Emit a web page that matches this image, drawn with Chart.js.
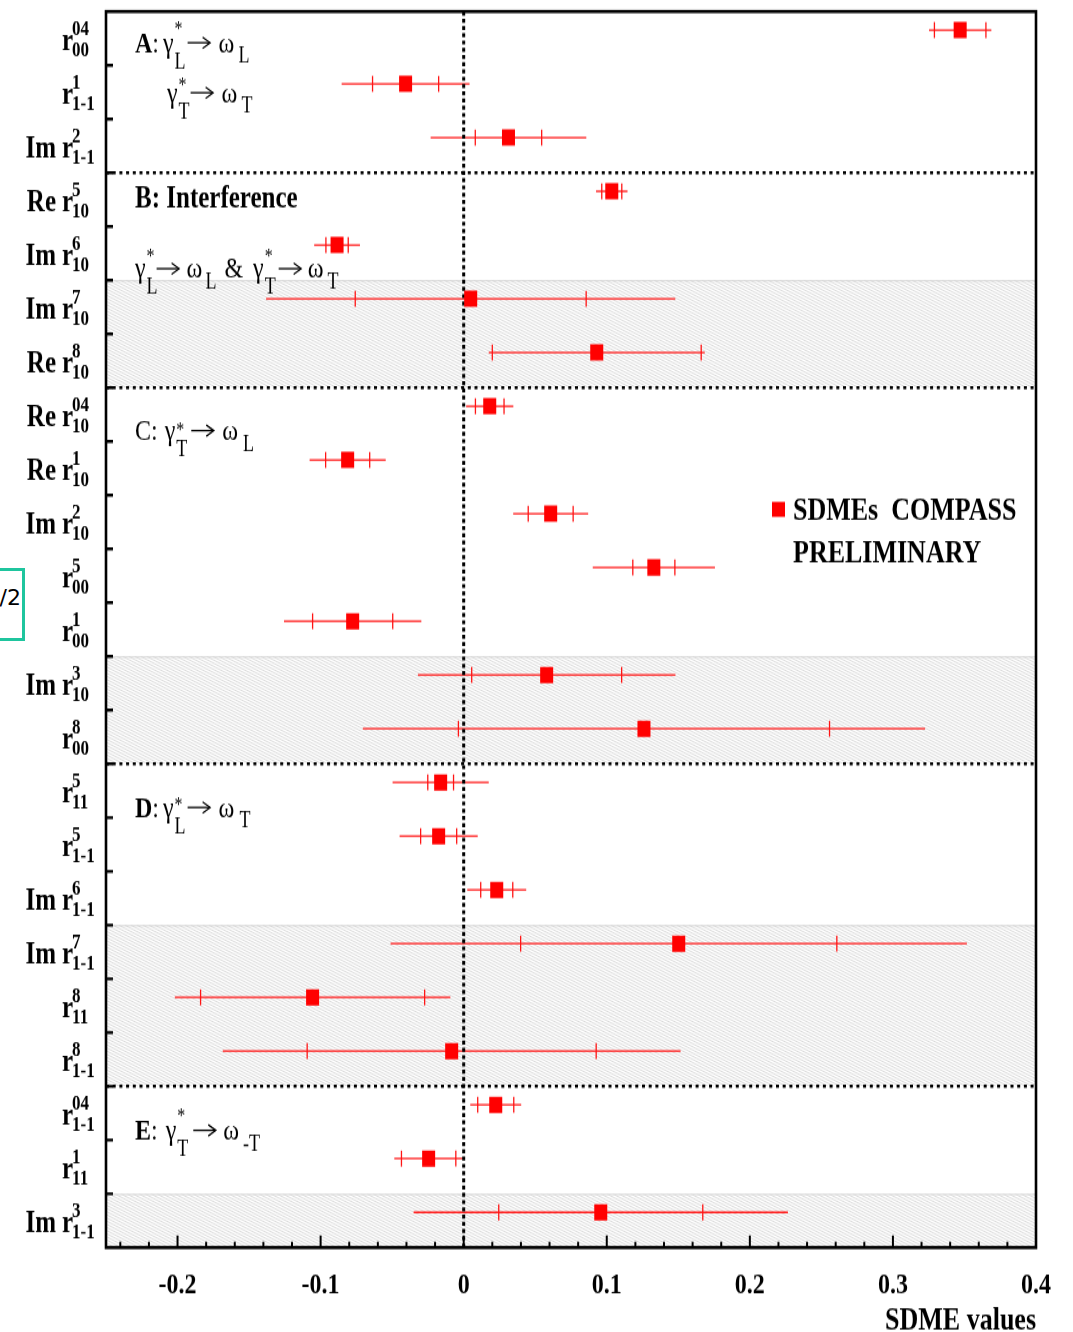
<!DOCTYPE html>
<html>
<head>
<meta charset="utf-8">
<script src="https://cdn.jsdelivr.net/npm/chart.js@4.4.1/dist/chart.umd.min.js"></script>
<style>
html,body{margin:0;padding:0;background:#fff;overflow:hidden}
#wrap{position:relative;width:1073px;height:1332px;overflow:hidden}
#note{position:absolute;left:-20px;top:568px;width:38px;height:53px;border:3px solid #1fc59e;overflow:hidden;
  font:22px "DejaVu Sans",sans-serif;color:#000;text-align:right;padding:14px 1px 0 0;line-height:26px;box-sizing:content-box;background:#fff}
</style>
</head>
<body>
<div id="wrap">
<canvas id="c" width="1073" height="1066" style="display:block;width:1073px;height:1332px"></canvas>
<div id="note">1/2</div>
</div>
<script>
// ---------------- data ----------------
const categories = ['r04_00','r1_1-1','Im r2_1-1','Re r5_10','Im r6_10','Im r7_10','Re r8_10',
  'Re r04_10','Re r1_10','Im r2_10','r5_00','r1_00','Im r3_10','r8_00',
  'r5_11','r5_1-1','Im r6_1-1','Im r7_1-1','r8_11','r8_1-1',
  'r04_1-1','r1_11','Im r3_1-1'];
const labelPrefix = ['', '', 'Im', 'Re', 'Im', 'Im', 'Re',
  'Re', 'Re', 'Im', '', '', 'Im', '',
  '', '', 'Im', 'Im', '', '',
  '', '', 'Im'];
const labelSup = ['04','1','2','5','6','7','8',
  '04','1','2','5','1','3','8',
  '5','5','6','7','8','8',
  '04','1','3'];
const labelSub = ['00','1-1','1-1','10','10','10','10',
  '10','10','10','00','00','10','00',
  '11','1-1','1-1','1-1','11','1-1',
  '1-1','11','1-1'];
const values  = [0.347, -0.0406, 0.0313, 0.1035, -0.0885, 0.0049, 0.093,
  0.0182, -0.0811, 0.0608, 0.1329, -0.0776, 0.058, 0.126,
  -0.0161, -0.0175, 0.0231, 0.1503, -0.1056, -0.0084,
  0.0224, -0.0245, 0.0958];
const statErr = [0.018, 0.0231, 0.0232, 0.007, 0.0078, 0.0807, 0.073,
  0.010, 0.0154, 0.0157, 0.0147, 0.028, 0.0524, 0.1297,
  0.009, 0.0126, 0.0112, 0.1105, 0.0783, 0.101,
  0.0126, 0.019, 0.0713];
const totErr  = [0.0218, 0.0447, 0.0544, 0.011, 0.016, 0.143, 0.0755,
  0.0165, 0.0266, 0.0262, 0.0427, 0.048, 0.090, 0.1965,
  0.0336, 0.0273, 0.0206, 0.2014, 0.0963, 0.160,
  0.0178, 0.024, 0.1308];
const xTickValues = [-0.2, -0.1, 0, 0.1, 0.2, 0.3, 0.4];
const xTickLabels = ['-0.2', '-0.1', '0', '0.1', '0.2', '0.3', '0.4'];
const sectionBreaks = [3, 7, 14, 20];
const hatchedRanges = [[5, 7], [12, 14], [17, 20], [22, 23]];
const legendLines = ['SDMEs  COMPASS', 'PRELIMINARY'];
const xTitle = 'SDME values';

// ---------------- layout constants ----------------
const ROW_OFF = 0.345;
const SERIF = '"Liberation Serif","Times New Roman",serif';
const X_MIN = -0.25, X_MAX = 0.4;

const annotations = [
  {x:135, y:41.6, sup:-14, parts:[['A','B',0],[':','N',0],['γ','N',4],['*','sup',1],['L','subS',1],['→','A',1],['ω','N',8],['L','sub',4]]},
  {x:167, y:81.6, sup:-9, parts:[['γ','N',0],['*','sup',1],['T','subS',1],['→','A',0],['ω','N',8],['T','sub',4]]},
  {x:135, y:166.4, sup:-12, parts:[['B: Interference','BL',0]]},
  {x:135, y:222.4, sup:-12, parts:[['γ','N',0],['*','sup',1],['L','subS',1],['→','A',-2],['ω','N',7],['L','sub',3],['&','N',8],['γ','N',10],['*','sup',1],['T','subS',1],['→','A',2],['ω','N',6],['T','sub',4]]},
  {x:135, y:352, sup:-3, parts:[['C','N',0],[':','N',0],['γ','N',7],['*','sup',1],['T','subS',1],['→','A',3],['ω','N',8],['L','sub',5]]},
  {x:135, y:653.6, sup:-5, parts:[['D','B',0],[':','N',0],['γ','N',4],['*','sup',1],['L','subS',1],['→','A',1],['ω','N',8],['T','sub',5]]},
  {x:135, y:912, sup:-14, parts:[['E','B',0],[':','N',0],['γ','N',8],['*','sup',1],['T','subS',1],['→','A',4],['ω','N',7],['-T','sub',4]]}
];

function drawArrow(ctx, x, y) {
  const w = 24, ay = y - 7.4;
  ctx.save();
  ctx.strokeStyle = '#000'; ctx.lineWidth = 1.3;
  ctx.beginPath(); ctx.moveTo(x + 1, ay); ctx.lineTo(x + w - 1, ay); ctx.stroke();
  ctx.beginPath(); ctx.moveTo(x + w - 8, ay - 4.5); ctx.lineTo(x + w - 0.5, ay); ctx.lineTo(x + w - 8, ay + 4.5); ctx.stroke();
  ctx.restore();
  return w;
}

function richText(ctx, x, y, parts, supDy) {
  const styles = {
    B:  {font:'bold 24px ' + SERIF, dy:0},
    BL: {font:'bold 25px ' + SERIF, dy:0},
    N:  {font:'24px ' + SERIF, dy:0},
    sup:{font:'16px ' + SERIF, dy:supDy},
    subS:{font:'18px ' + SERIF, dy:13},
    sub:{font:'18px ' + SERIF, dy:8.5}
  };
  let cx = x, supW = 0, supX = null;
  for (const [txt, kind, gap] of parts) {
    if (kind === 'A') { cx += gap; cx += drawArrow(ctx, cx, y); continue; }
    const st = styles[kind];
    ctx.font = st.font;
    const w = ctx.measureText(txt).width;
    if (kind === 'sup') { supX = cx + gap; ctx.fillText(txt, supX, y + st.dy); supW = w; continue; }
    if (kind === 'subS') { const sx = supX !== null ? supX : cx + gap; ctx.fillText(txt, sx, y + st.dy); cx = sx + Math.max(w, supW); supW = 0; supX = null; continue; }
    cx += gap;
    ctx.fillText(txt, cx, y + st.dy);
    cx += w;
  }
}

const sdmePlugin = {
  id: 'sdme',
  beforeDatasetsDraw(chart) {
    const {ctx, chartArea: a, scales: {x, y}} = chart;
    ctx.save();
    // hatched bands
    for (const [r0, r1] of hatchedRanges) {
      const y0 = y.getPixelForValue(r0), y1 = y.getPixelForValue(r1);
      ctx.save();
      ctx.beginPath(); ctx.rect(a.left, y0, a.right - a.left, y1 - y0); ctx.clip();
      ctx.strokeStyle = '#d0d0d0'; ctx.lineWidth = 0.8;
      const slope = 0.42, step = 6;
      const span = (y1 - y0) / slope;
      ctx.beginPath();
      let start = a.left - span - ((a.left - span - y0 / slope) % step + step) % step;
      for (let xx = start; xx < a.right; xx += step) { ctx.moveTo(xx, y0); ctx.lineTo(xx + span, y1); }
      ctx.stroke();
      ctx.restore();
      ctx.strokeStyle = '#d4d4d4'; ctx.lineWidth = 1;
      ctx.beginPath(); ctx.moveTo(a.left, y0 + 0.5); ctx.lineTo(a.right, y0 + 0.5); ctx.stroke();
    }
    // error bars
    ctx.strokeStyle = '#ff1515'; ctx.lineWidth = 1.3;
    values.forEach((v, i) => {
      const py = y.getPixelForValue(i + ROW_OFF);
      const xl = x.getPixelForValue(Math.max(X_MIN, v - totErr[i]));
      const xr = x.getPixelForValue(Math.min(X_MAX, v + totErr[i]));
      ctx.beginPath(); ctx.moveTo(xl, py); ctx.lineTo(xr, py); ctx.stroke();
      for (const sx of [v - statErr[i], v + statErr[i]]) {
        const px = x.getPixelForValue(sx);
        ctx.beginPath(); ctx.moveTo(px, py - 6.4); ctx.lineTo(px, py + 6.4); ctx.stroke();
      }
    });
    // dotted lines
    ctx.strokeStyle = '#000';
    ctx.lineWidth = 3; ctx.setLineDash([3.2, 2.6]);
    const x0 = x.getPixelForValue(0);
    ctx.beginPath(); ctx.moveTo(x0, a.top); ctx.lineTo(x0, a.bottom); ctx.stroke();
    ctx.lineWidth = 2.5; ctx.setLineDash([3, 3.7]);
    for (const b of sectionBreaks) {
      const by = y.getPixelForValue(b);
      ctx.beginPath(); ctx.moveTo(a.left, by); ctx.lineTo(a.right, by); ctx.stroke();
    }
    ctx.restore();
  },
  afterDraw(chart) {
    const {ctx, chartArea: a, scales: {x, y}} = chart;
    ctx.save();
    // frame
    ctx.strokeStyle = '#000'; ctx.lineWidth = 2.6;
    ctx.strokeRect(a.left, a.top, a.right - a.left, a.bottom - a.top);
    // x ticks (inside)
    ctx.lineWidth = 2;
    ctx.beginPath();
    for (let k = -12; k <= 20; k++) {
      const v = k * 0.02;
      const px = x.getPixelForValue(v);
      const major = k % 5 === 0;
      ctx.moveTo(px, a.bottom); ctx.lineTo(px, a.bottom - (major ? 9.6 : 4.6));
    }
    ctx.stroke();
    // y ticks at row boundaries
    ctx.lineWidth = 2.4;
    ctx.beginPath();
    for (let b = 1; b < categories.length; b++) {
      const by = y.getPixelForValue(b);
      ctx.moveTo(a.left, by); ctx.lineTo(a.left + 7, by);
    }
    ctx.stroke();
    // category labels
    ctx.fillStyle = '#000'; ctx.textBaseline = 'alphabetic';
    categories.forEach((c, i) => {
      const cy = y.getPixelForValue(i + 0.5);
      const rx = 62;
      ctx.font = 'bold 25px ' + SERIF;
      ctx.textAlign = 'right';
      if (labelPrefix[i]) ctx.fillText(labelPrefix[i], rx - 6, cy + 8.8);
      ctx.textAlign = 'left';
      ctx.fillText('r', rx, cy + 8.8);
      const rw = ctx.measureText('r').width;
      ctx.font = 'bold 17px ' + SERIF;
      ctx.fillText(labelSup[i], rx + rw - 1, cy - 3);
      ctx.fillText(labelSub[i], rx + rw - 1, cy + 14.6);
    });
    // annotations
    ctx.textAlign = 'left';
    for (const an of annotations) richText(ctx, an.x, an.y, an.parts, an.sup);
    // legend
    ctx.fillStyle = '#ff0000';
    ctx.fillRect(772, 401.6, 13, 12);
    ctx.fillStyle = '#000';
    ctx.font = 'bold 26px ' + SERIF;
    ctx.fillText(legendLines[0], 793, 416);
    ctx.fillText(legendLines[1], 793, 449.6);
    ctx.restore();
  }
};

const points = values.map((v, i) => ({x: v, y: i + ROW_OFF}));

new Chart(document.getElementById('c'), {
  type: 'scatter',
  data: { datasets: [{
    label: 'SDMEs COMPASS PRELIMINARY',
    data: points,
    pointStyle: 'rect',
    pointRadius: 9.2,
    pointHoverRadius: 9.2,
    backgroundColor: '#ff0000',
    borderColor: '#ff0000',
    borderWidth: 0
  }]},
  options: {
    responsive: false,
    animation: false,
    devicePixelRatio: 1,
    events: [],
    layout: { padding: { left: 106, right: 37, top: 6.4, bottom: 0 } },
    plugins: { legend: { display: false }, tooltip: { enabled: false } },
    scales: {
      x: {
        type: 'linear', min: X_MIN, max: X_MAX,
        grid: { display: false, drawTicks: false },
        border: { display: false },
        afterBuildTicks: s => { s.ticks = xTickValues.map(v => ({ value: v })); },
        afterFit: s => { s.height = 1066 - 998.4; },
        ticks: {
          autoSkip: false, maxRotation: 0, padding: 16, color: '#000',
          font: { family: SERIF, weight: 'bold', size: 24 },
          callback: (v, i) => xTickLabels[i]
        },
        title: { display: true, text: xTitle, align: 'end', color: '#000',
          font: { family: SERIF, weight: 'bold', size: 26, lineHeight: 1 },
          padding: { top: 0, bottom: -4 } }
      },
      y: { type: 'linear', min: 0, max: 23, reverse: true, display: false }
    }
  },
  plugins: [sdmePlugin]
});
</script>
</body>
</html>
